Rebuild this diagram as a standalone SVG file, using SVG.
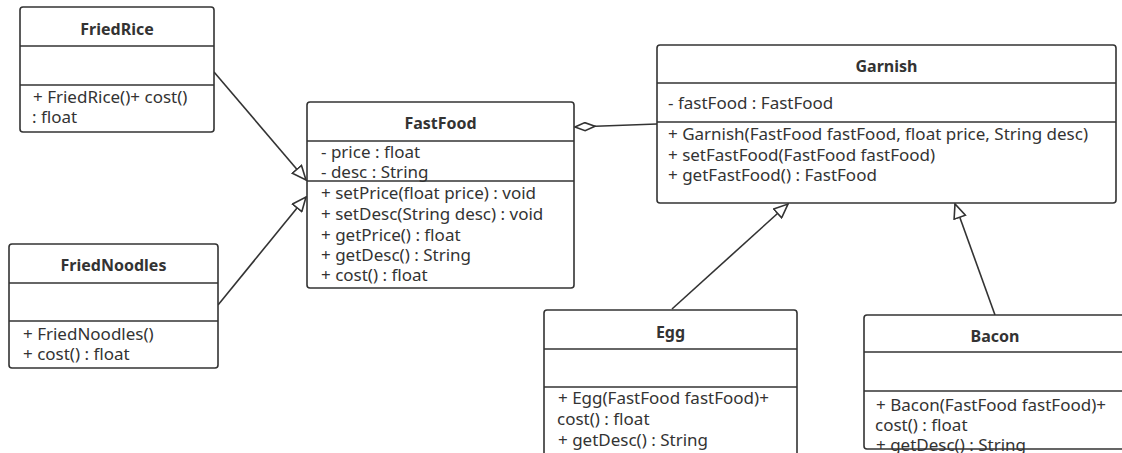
<svg xmlns="http://www.w3.org/2000/svg" width="1122" height="453" viewBox="0 0 1122 453">
<defs>
<style>
.bg{fill:#ffffff;stroke:none}
.box{fill:none;stroke:#333333;stroke-width:1.6}
.sep{stroke:#333333;stroke-width:1.6}
.t{font-family:"Noto Sans","Open Sans",sans-serif;font-size:17px;fill:#333333}
.h{font-family:"Noto Sans","Open Sans",sans-serif;font-size:16px;font-weight:bold;fill:#333333;text-anchor:middle}
.edge{fill:none;stroke:#333333;stroke-width:1.6}
</style>
<marker id="tri" viewBox="0 0 16 14" refX="15" refY="7" markerWidth="16" markerHeight="14" markerUnits="userSpaceOnUse" orient="auto">
<path d="M1,1 L15,7 L1,13 Z" fill="#ffffff" stroke="#333333" stroke-width="1.6"/>
</marker>
<marker id="dia" viewBox="0 0 22 10" refX="21" refY="5" markerWidth="22" markerHeight="10" markerUnits="userSpaceOnUse" orient="auto">
<path d="M1,5 L11,1 L21,5 L11,9 Z" fill="#ffffff" stroke="#333333" stroke-width="1.6"/>
</marker>
</defs>
<rect width="1122" height="453" fill="#ffffff"/>

<g id="connectors">
<path class="edge" d="M214,72 L306,180" marker-end="url(#tri)"/>
<path class="edge" d="M218,305 L306,197" marker-end="url(#tri)"/>
<path class="edge" d="M657,124 L575,127" marker-end="url(#dia)"/>
<path class="edge" d="M672,309 L788,204" marker-end="url(#tri)"/>
<path class="edge" d="M995,315 L955,204" marker-end="url(#tri)"/>
</g>

<g id="FriedRice">
<rect class="bg" x="20" y="7" width="194" height="125" rx="3"/>
<text class="h" x="117" y="35">FriedRice</text>
<line class="sep" x1="20" y1="46" x2="214" y2="46"/>
<line class="sep" x1="20" y1="85" x2="214" y2="85"/>
<text class="t" x="33" y="103">+ FriedRice()+ cost()</text>
<text class="t" x="32" y="123">: float</text>
<rect class="box" x="20" y="7" width="194" height="125" rx="3"/>
</g>

<g id="FriedNoodles">
<rect class="bg" x="9" y="244" width="209" height="124" rx="3"/>
<text class="h" x="113.5" y="271">FriedNoodles</text>
<line class="sep" x1="9" y1="283" x2="218" y2="283"/>
<line class="sep" x1="9" y1="321" x2="218" y2="321"/>
<text class="t" x="23" y="340">+ FriedNoodles()</text>
<text class="t" x="23" y="360">+ cost() : float</text>
<rect class="box" x="9" y="244" width="209" height="124" rx="3"/>
</g>

<g id="FastFood">
<rect class="bg" x="307" y="102" width="267" height="186" rx="3"/>
<text class="h" x="440.5" y="129">FastFood</text>
<line class="sep" x1="307" y1="141" x2="574" y2="141"/>
<text class="t" x="321" y="158">- price : float</text>
<text class="t" x="321" y="178">- desc : String</text>
<line class="sep" x1="307" y1="181" x2="574" y2="181"/>
<text class="t" x="321" y="199">+ setPrice(float price) : void</text>
<text class="t" x="321" y="220">+ setDesc(String desc) : void</text>
<text class="t" x="321" y="241">+ getPrice() : float</text>
<text class="t" x="321" y="261">+ getDesc() : String</text>
<text class="t" x="321" y="281">+ cost() : float</text>
<rect class="box" x="307" y="102" width="267" height="186" rx="3"/>
</g>

<g id="Garnish">
<rect class="bg" x="657" y="45" width="459" height="158" rx="3"/>
<text class="h" x="886.5" y="72">Garnish</text>
<line class="sep" x1="657" y1="83" x2="1116" y2="83"/>
<text class="t" x="668" y="109">- fastFood : FastFood</text>
<line class="sep" x1="657" y1="122" x2="1116" y2="122"/>
<text class="t" x="668" y="140">+ Garnish(FastFood fastFood, float price, String desc)</text>
<text class="t" x="668" y="161">+ setFastFood(FastFood fastFood)</text>
<text class="t" x="668" y="181">+ getFastFood() : FastFood</text>
<rect class="box" x="657" y="45" width="459" height="158" rx="3"/>
</g>

<g id="Egg">
<rect class="bg" x="544" y="310" width="253" height="165" rx="3"/>
<text class="h" x="670.5" y="338">Egg</text>
<line class="sep" x1="544" y1="349" x2="797" y2="349"/>
<line class="sep" x1="544" y1="387" x2="797" y2="387"/>
<text class="t" x="558" y="404">+ Egg(FastFood fastFood)+</text>
<text class="t" x="557" y="425">cost() : float</text>
<text class="t" x="558" y="446">+ getDesc() : String</text>
<rect class="box" x="544" y="310" width="253" height="165" rx="3"/>
</g>

<g id="Bacon">
<rect class="bg" x="864" y="315" width="262" height="134" rx="3"/>
<text class="h" x="995" y="342">Bacon</text>
<line class="sep" x1="864" y1="352" x2="1126" y2="352"/>
<line class="sep" x1="864" y1="391" x2="1126" y2="391"/>
<text class="t" x="876" y="411">+ Bacon(FastFood fastFood)+</text>
<text class="t" x="875" y="431">cost() : float</text>
<text class="t" x="876" y="451">+ getDesc() : String</text>
<rect class="box" x="864" y="315" width="262" height="134" rx="3"/>
</g>
</svg>
